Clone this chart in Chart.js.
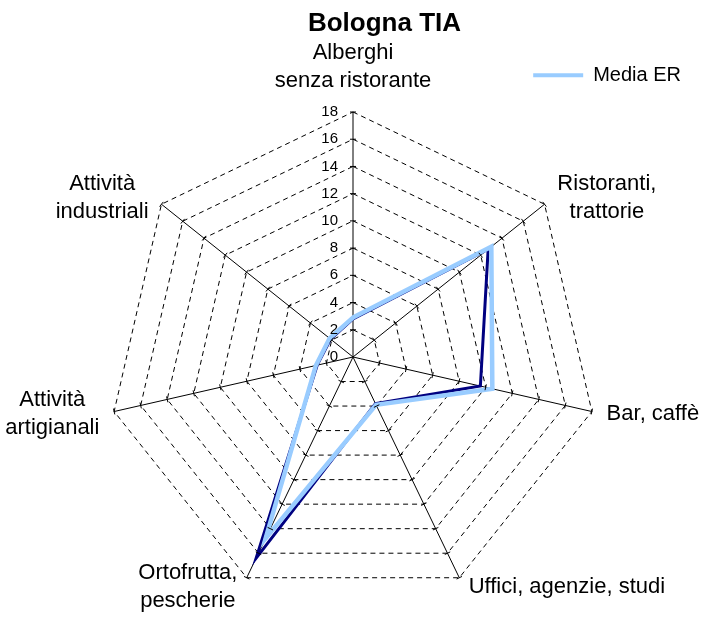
<!DOCTYPE html>
<html>
<head>
<meta charset="utf-8">
<title>Bologna TIA</title>
<script src="https://cdn.jsdelivr.net/npm/chart.js@4"></script>
<style>
  html, body { margin: 0; padding: 0; background: #fff; }
</style>
</head>
<body>
<canvas id="radarChart" width="707" height="619"></canvas>
<script>
// --- data ---
const categories = [
  ["Alberghi", "senza ristorante"],
  ["Ristoranti,", "trattorie"],
  ["Bar, caffè"],
  ["Uffici, agenzie, studi"],
  ["Ortofrutta,", "pescherie"],
  ["Attività", "artigianali"],
  ["Attività", "industriali"]
];
const bolognaValues = [2.8, 12.7, 9.6, 3.8, 16.4, 2.7, 2.1];
const mediaErValues = [2.9, 13.0, 10.5, 3.9, 14.8, 2.8, 2.2];
const scaleMin = 0;
const scaleMax = 18;
const scaleStep = 2;

const DARK = "#000080";
const LIGHT = "#99CCFF";

Chart.defaults.font.family = "Arial, 'Liberation Sans', sans-serif";
Chart.defaults.color = "#000";

// Excel-like labels: values left of the vertical axis, category labels outside the web
const excelLabels = {
  id: "excelLabels",
  afterDraw(chart) {
    const s = chart.scales.r;
    const ctx = chart.ctx;
    ctx.save();
    ctx.fillStyle = "#000";
    ctx.strokeStyle = "#000";
    ctx.lineWidth = 1;

    // small tick marks on every axis
    for (let i = 0; i < categories.length; i++) {
      s.ticks.forEach(t => {
        if (t.value <= scaleMin) return;
        const p = s.getPointPositionForValue(i, t.value);
        const px = -Math.sin(p.angle), py = Math.cos(p.angle);
        ctx.beginPath();
        ctx.moveTo(p.x - px * 3, p.y - py * 3);
        ctx.lineTo(p.x + px * 3, p.y + py * 3);
        ctx.stroke();
      });
    }

    // value labels
    ctx.font = "15px Arial, 'Liberation Sans', sans-serif";
    ctx.textAlign = "right";
    ctx.textBaseline = "middle";
    s.ticks.forEach(t => {
      const d = s.getDistanceFromCenterForValue(t.value);
      ctx.fillText(String(t.value), s.xCenter - 15, s.yCenter - d);
    });

    // category labels
    ctx.font = "22px Arial, 'Liberation Sans', sans-serif";
    ctx.textAlign = "center";
    categories.forEach((lines, i) => {
      const p = s.getPointPosition(i, s.drawingArea + 10);
      const dx = p.x - s.xCenter;
      const w = Math.max(...lines.map(l => ctx.measureText(l).width));
      if (Math.abs(dx) < 1) {
        ctx.textBaseline = "alphabetic";
        lines.forEach((l, k) => {
          ctx.fillText(l, p.x, p.y - 15 - (lines.length - 1 - k) * 28);
        });
      } else {
        const cx = dx > 0 ? p.x + 5 + w / 2 : p.x - 5 - w / 2;
        const top = p.y - (lines.length - 1) * 14;
        ctx.textBaseline = "middle";
        lines.forEach((l, k) => ctx.fillText(l, cx, top + k * 28));
      }
    });
    ctx.restore();
  }
};

const ctx = document.getElementById("radarChart").getContext("2d");
new Chart(ctx, {
  type: "radar",
  data: {
    labels: categories.map(c => c.join(" ")),
    datasets: [
      {
        label: "Media ER",
        data: mediaErValues,
        borderColor: LIGHT,
        backgroundColor: LIGHT,
        borderWidth: 4.5,
        fill: false,
        pointRadius: 0,
        order: 0
      },
      {
        label: "Bologna",
        data: bolognaValues,
        borderColor: DARK,
        backgroundColor: DARK,
        borderWidth: 3,
        fill: false,
        pointRadius: 0,
        order: 1
      }
    ]
  },
  options: {
    responsive: false,
    animation: false,
    devicePixelRatio: 1,
    layout: { padding: { left: 76, right: 14, top: 0, bottom: 0 } },
    plugins: {
      title: {
        display: true,
        text: "Bologna TIA",
        color: "#000",
        font: { size: 26, weight: "bold" },
        padding: { top: 8, bottom: 14 }
      },
      legend: {
        position: "top",
        align: "end",
        labels: {
          boxWidth: 50,
          boxHeight: 4,
          padding: 12,
          color: "#000",
          font: { size: 20 },
          generateLabels: chart =>
            Chart.defaults.plugins.legend.labels.generateLabels(chart)
              .filter(item => item.text === "Media ER")
              .map(item => ({ ...item, fillStyle: LIGHT, strokeStyle: LIGHT, lineWidth: 0 }))
        }
      },
      tooltip: { enabled: false }
    },
    scales: {
      r: {
        min: scaleMin,
        max: scaleMax,
        ticks: { stepSize: scaleStep, display: false },
        pointLabels: { display: false },
        grid: { color: "#000", lineWidth: 1 },
        border: { dash: [5, 4] },
        angleLines: { color: "#000", lineWidth: 1 },
        afterFit(scale) {
          // radar sits centred on the page with a smaller radius than the free area
          scale.xCenter = Math.floor(scale.chart.width / 2);
          scale.drawingArea = Math.round(scale.drawingArea * 0.94);
        }
      }
    }
  },
  plugins: [excelLabels]
});
</script>
</body>
</html>
